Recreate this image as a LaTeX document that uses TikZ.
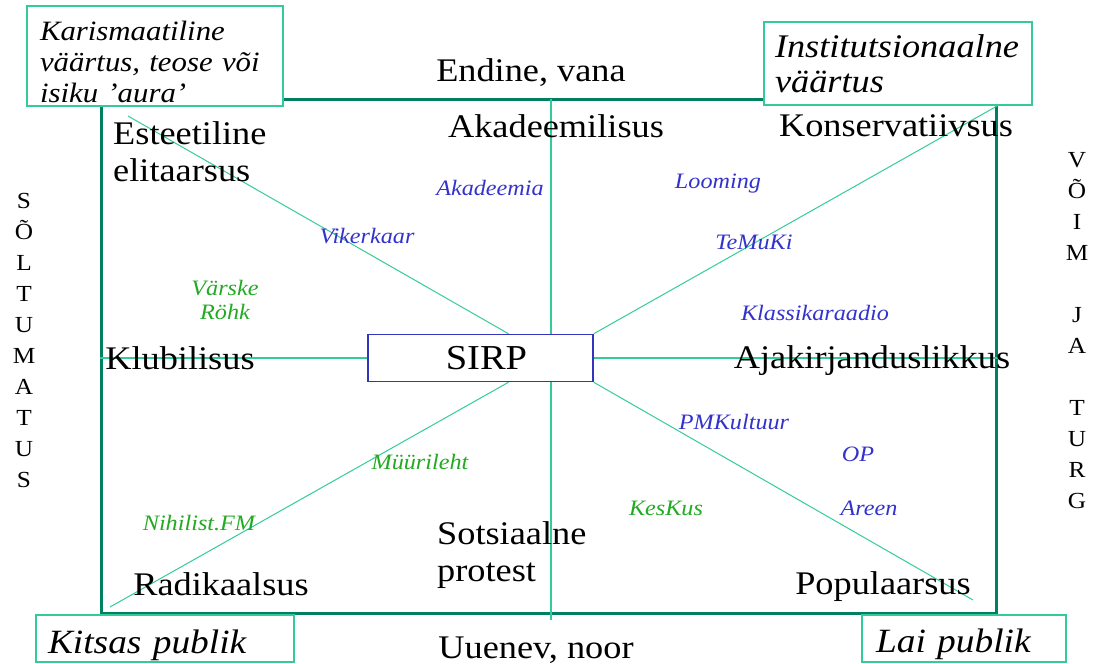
\documentclass[tikz,border=0pt]{standalone}
\usepackage{fontspec}
\setmainfont{Liberation Serif}[FakeStretch=1.1]
\usetikzlibrary{backgrounds}
\definecolor{frameline}{RGB}{0,128,96}
\definecolor{lightline}{RGB}{51,204,153}
\definecolor{sirpblue}{RGB}{51,51,187}
\definecolor{mediablue}{RGB}{51,51,204}
\definecolor{mediagreen}{RGB}{34,170,34}
\begin{document}
\begin{tikzpicture}[x=1pt,y=-1pt,
    every node/.style={inner sep=0pt},
    frame/.style={draw=frameline,line width=3pt},
    ray/.style={draw=lightline,line width=1pt},
    axis/.style={draw=lightline,line width=1.6pt},
    cornerbox/.style={draw=lightline,line width=1.5pt,fill=white,align=left,font=\itshape\fontsize{34}{37}\selectfont},
    pole/.style={font=\fontsize{33}{37}\selectfont,align=left},
    bluemedia/.style={text=mediablue,font=\itshape\fontsize{22}{24}\selectfont},
    greenmedia/.style={text=mediagreen,font=\itshape\fontsize{22}{24}\selectfont,align=center},
    sidetext/.style={font=\fontsize{23}{31}\selectfont,align=center}]
    \useasboundingbox (0,0) rectangle (1104,664);
    % boxes
    \node[draw=sirpblue,line width=1.5pt,fill=white,minimum width=225pt,minimum height=47pt,font=\fontsize{35}{37}\selectfont] (sirp) at (480.5,358) {\hspace*{12pt}SIRP};
    \node[cornerbox,minimum width=256pt,minimum height=100pt,text width=230pt,font=\itshape\fontsize{28}{31}\selectfont] (aura) at (155,56) {\rule{0pt}{31pt}Karismaatiline\\väärtus, teose või\\isiku ’aura’};
    \node[cornerbox,minimum width=268pt,minimum height=83pt,text width=246pt,font=\itshape\fontsize{33}{35}\selectfont] (inst) at (898,63.5) {Institutsionaalne\\väärtus};
    \node[cornerbox,minimum width=258pt,minimum height=47pt,text width=234pt,text height=38pt,text depth=9pt] (kitsas) at (165,638.5) {Kitsas publik};
    \node[cornerbox,minimum width=204pt,minimum height=47pt,text width=176pt,text height=37pt,text depth=10pt] (lai) at (964,638.5) {Lai publik};
    % frame, axes and rays
    \coordinate (midtop) at (551,99);
    \coordinate (midbot) at (551,620);
    \coordinate (tlend) at (128,116);
    \coordinate (blend) at (110,607);
    \coordinate (brend) at (973,600);
    \begin{scope}[on background layer]
    \node[frame,minimum width=895pt,minimum height=514pt] (frame) at (548.5,356) {};
    \draw[axis] (midtop) -- (midbot);
    \draw[axis] (frame.west |- sirp.center) -- (frame.east |- sirp.center);
    \draw[ray] (tlend) -- ([xshift=28pt]sirp.north);
    \draw[ray] (sirp.north east) -- (frame.east |- inst.south);
    \draw[ray] ([xshift=28pt]sirp.south) -- (blend);
    \draw[ray] (sirp.south east) -- (brend);
    \end{scope}
    % poles
    \node[pole] (endine) at (531,73) {Endine, vana};
    \node[pole] (akad) at (556,126) {Akadeemilisus};
    \node[pole,anchor=west] (esteet) at (113,152) {Esteetiline\\elitaarsus};
    \node[pole] (konserv) at (896,126) {Konservatiivsus};
    \node[pole] (klubi) at (180,358) {Klubilisus};
    \node[pole] (ajak) at (872,361) {Ajakirjanduslikkus};
    \node[pole,anchor=west] (sots) at (437,555) {Sotsiaalne\\protest};
    \node[pole] (radik) at (221,584) {Radikaalsus};
    \node[pole] (popul) at (883,587) {Populaarsus};
    \node[pole] (uuenev) at (536,650) {Uuenev, noor};
    % media
    \node[bluemedia] (akadeemia) at (490,188) {Akadeemia};
    \node[bluemedia] (vikerkaar) at (367,236) {Vikerkaar};
    \node[bluemedia] (looming) at (718,184) {Looming};
    \node[bluemedia] (temuki) at (754,242) {TeMuKi};
    \node[bluemedia] (klassika) at (815,313) {Klassikaraadio};
    \node[bluemedia] (pmkultuur) at (734,422) {PMKultuur};
    \node[bluemedia] (op) at (858,454) {OP};
    \node[bluemedia] (areen) at (869,508) {Areen};
    \node[greenmedia] (varske) at (225,300) {Värske\\Röhk};
    \node[greenmedia] (muurileht) at (420,462) {Müürileht};
    \node[greenmedia] (nihilist) at (199,523) {Nihilist.FM};
    \node[greenmedia] (keskus) at (666,508) {KesKus};
    % side axes
    \node[sidetext] (soltumatus) at (24,340) {S\\Õ\\L\\T\\U\\M\\A\\T\\U\\S};
    \node[sidetext] (voim) at (1077,331) {V\\Õ\\I\\M\\[31pt]J\\A\\[31pt]T\\U\\R\\G};
\end{tikzpicture}
\end{document}
